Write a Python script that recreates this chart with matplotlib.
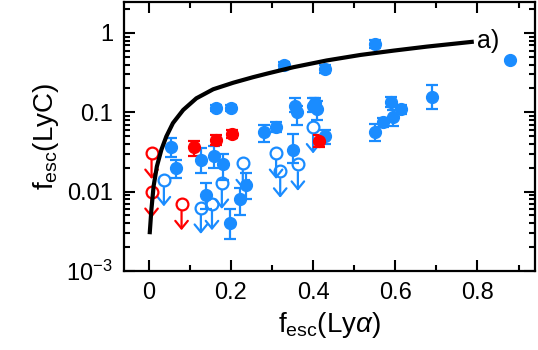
import numpy as np
import matplotlib
matplotlib.use("Agg")
import matplotlib.pyplot as plt
from matplotlib.ticker import MultipleLocator, LogLocator, NullFormatter

plt.rcParams['font.family'] = ['Liberation Sans', 'DejaVu Sans']
plt.rcParams['mathtext.fontset'] = 'custom'
plt.rcParams['mathtext.rm'] = 'Liberation Sans'
plt.rcParams['mathtext.it'] = 'Liberation Sans:italic'

blue = '#1a8cff'
red = '#ff0000'

# model curve
curve_x = [0.0024, 0.0066, 0.012, 0.020, 0.031, 0.043, 0.059, 0.084, 0.116,
           0.157, 0.206, 0.254, 0.291, 0.352, 0.433, 0.515, 0.596, 0.677, 0.791]
curve_y = [0.0029, 0.0059, 0.0117, 0.0208, 0.0338, 0.0496, 0.073, 0.107, 0.150,
           0.195, 0.236, 0.277, 0.31, 0.37, 0.45, 0.528, 0.599, 0.673, 0.777]

# blue detections
blue_x = [0.88, 0.55, 0.43, 0.33, 0.69, 0.59, 0.615, 0.595, 0.57, 0.55,
          0.355, 0.36, 0.40, 0.41, 0.405, 0.31, 0.28, 0.43, 0.35, 0.165,
          0.20, 0.054, 0.066, 0.127, 0.16, 0.18, 0.14, 0.198, 0.222, 0.238]
blue_y = [0.46, 0.73, 0.35, 0.39, 0.157, 0.135, 0.11, 0.088, 0.075, 0.057,
          0.12, 0.10, 0.12, 0.11, 0.13, 0.066, 0.057, 0.05, 0.033, 0.114,
          0.114, 0.037, 0.02, 0.025, 0.028, 0.022, 0.009, 0.004, 0.008, 0.012]
blue_lo = [0.0, 0.08, 0.04, 0.04, 0.047, 0.02, 0.015, 0.02, 0.01, 0.014,
           0.02, 0.03, 0.02, 0.03, 0.02, 0.01, 0.015, 0.01, 0.01, 0.01,
           0.01, 0.01, 0.005, 0.008, 0.008, 0.008, 0.003, 0.0015, 0.003, 0.004]
blue_hi = [0.0, 0.08, 0.04, 0.04, 0.066, 0.02, 0.015, 0.02, 0.01, 0.015,
           0.03, 0.02, 0.03, 0.03, 0.02, 0.01, 0.012, 0.01, 0.02, 0.01,
           0.01, 0.01, 0.005, 0.01, 0.01, 0.008, 0.004, 0.002, 0.003, 0.005]

# blue upper limits
blim_x = [0.037, 0.127, 0.154, 0.178, 0.229, 0.31, 0.32, 0.363, 0.40]
blim_y = [0.014, 0.0063, 0.007, 0.013, 0.023, 0.031, 0.018, 0.022, 0.065]

# red detections
red_x = [0.11, 0.163, 0.202, 0.415]
red_y = [0.036, 0.045, 0.054, 0.044]
red_lo = [0.008, 0.006, 0.006, 0.008]
red_hi = [0.008, 0.006, 0.006, 0.008]

# red upper limits
rlim_x = [0.007, 0.007, 0.08]
rlim_y = [0.031, 0.01, 0.007]

fig = plt.figure(figsize=(5.38, 3.5), dpi=100)
ax = fig.add_axes([0.2305, 0.226, 0.764, 0.768])

ax.plot(curve_x, curve_y, color='black', lw=3, zorder=5,
        solid_capstyle='butt', solid_joinstyle='round')
ax.text(0.80, 0.8, 'a)', fontsize=18, va='center', ha='left')


def limits(xs, ys, c):
    ax.plot(xs, ys, 'o', ms=8.5, mfc='none', mec=c, mew=1.6, zorder=3)
    for x, y in zip(xs, ys):
        ax.annotate('', xy=(x, y / 2.15), xytext=(x, y),
                    arrowprops=dict(arrowstyle='->,head_length=0.55,head_width=0.45',
                                    color=c, lw=1.6, shrinkA=5.5, shrinkB=0),
                    zorder=3)


limits(blim_x, blim_y, blue)
limits(rlim_x, rlim_y, red)

ax.errorbar(blue_x, blue_y, yerr=[blue_lo, blue_hi], fmt='o', color=blue,
            ms=8.5, elinewidth=1.6, capsize=4.5, capthick=1.6, zorder=4)
ax.errorbar(red_x, red_y, yerr=[red_lo, red_hi], fmt='o', color=red,
            ms=8.5, elinewidth=1.6, capsize=4.5, capthick=1.6, zorder=4)

ax.set_xlim(-0.06, 0.94)
ax.set_yscale('log')
ax.set_ylim(1e-3, 2.45)

ax.xaxis.set_minor_locator(MultipleLocator(0.1))
ax.set_xticks([0, 0.2, 0.4, 0.6, 0.8])
ax.set_xticklabels(['0', '0.2', '0.4', '0.6', '0.8'])
ax.set_yticks([1e-3, 1e-2, 1e-1, 1])
ax.set_yticklabels([r'$10^{-3}$', '0.01', '0.1', '1'])
ax.yaxis.set_minor_locator(LogLocator(base=10, subs=np.arange(2, 10)))
ax.yaxis.set_minor_formatter(NullFormatter())

ax.tick_params(which='both', direction='in', top=True, right=True,
               labelsize=17, width=1.5, pad=8)
ax.tick_params(which='major', length=8)
ax.tick_params(which='minor', length=4.5)
for s in ax.spines.values():
    s.set_linewidth(1.6)

ax.set_xlabel(r'f$_{\rm esc}$(Ly$\alpha$)', fontsize=20, labelpad=4)
ax.set_ylabel(r'f$_{\rm esc}$(LyC)', fontsize=20, labelpad=4)

fig.savefig('out.png', dpi=100)
